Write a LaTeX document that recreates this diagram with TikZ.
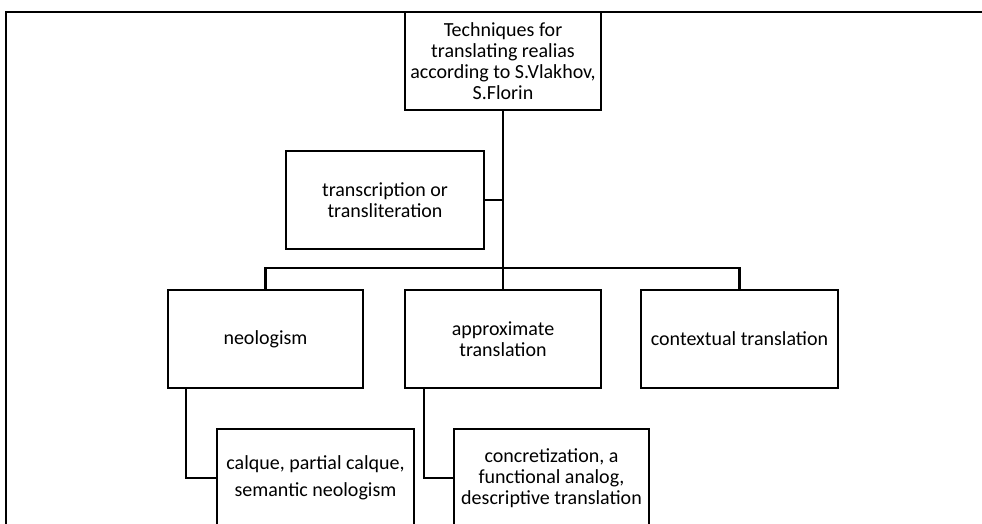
\documentclass[tikz,border=0pt]{standalone}
\usepackage{fontspec}
\setmainfont{Carlito}
\usepackage{tikz}
\usetikzlibrary{positioning, calc}
\tikzset{
    techbox/.style={rectangle, draw=black, line width=2.2pt, fill=white, minimum width=196pt, minimum height=98pt, align=center, inner sep=1pt, font=\fontsize{20}{21}\selectfont},
    link/.style={line width=2.2pt, black},
    frame/.style={line width=2.2pt, black}
}
\begin{document}
\begin{tikzpicture}[x=1pt, y=-1pt]
        \useasboundingbox (0,0) rectangle (982,523);
        \clip (0,0) rectangle (982,523);

        % Outer frame (cut off at the right and bottom)
        \coordinate (corner) at (6,12);
        \draw[frame] (corner |- 0,560) -- (corner) -- (corner -| 1000,0);

        % Root and first branch
        \node[techbox] (root) at (503,61) {Techniques for\\translating realias\\according to S.Vlakhov,\\S.Florin};
        \node[techbox, minimum width=198pt] (trans) at (385,200) {transcription or\\transliteration};

        % Second level
        \node[techbox, minimum width=195pt] (neo) at (265.5,339) {neologism};
        \node[techbox] (approx) at (503,339) {approximate\\translation};
        \node[techbox, minimum width=197pt] (context) at (739.5,339) {contextual translation};

        % Third level
        \node[techbox, minimum width=197pt, font=\fontsize{20}{27}\selectfont] (calque) at (315.5,478) {calque, partial calque,\\semantic neologism};
        \node[techbox, minimum width=195pt] (concr) at (551.5,478) {concretization, a\\functional analog,\\descriptive translation};

        % Connectors
        \coordinate (bus) at (503,268);
        \draw[link] (root.south) -- (bus);
        \draw[link] (trans.east) -- (trans.east -| root.south);
        \draw[link] (neo.north) |- (bus) -| (context.north);
        \draw[link] (bus) -- (approx.north);
        \draw[link] ([xshift=19pt]neo.south west) |- (calque.west);
        \draw[link] ([xshift=20pt]approx.south west) |- (concr.west);
    \end{tikzpicture}
\end{document}
